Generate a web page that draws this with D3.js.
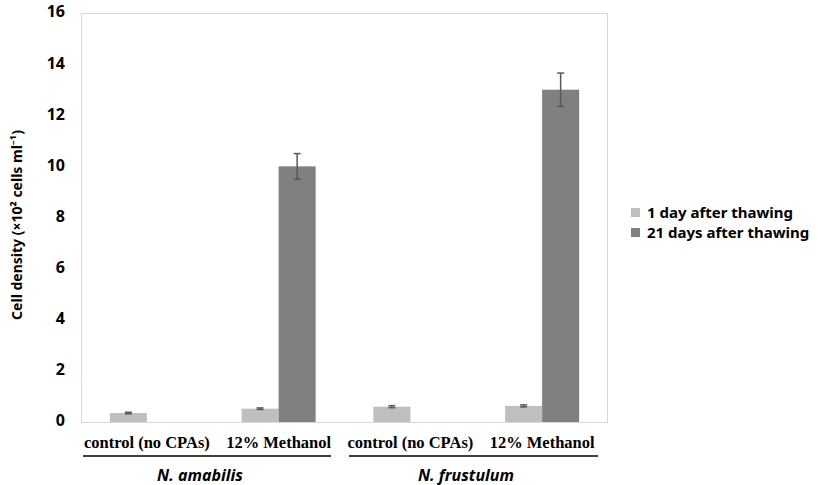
<!DOCTYPE html>
<html>
<head>
<meta charset="utf-8">
<script src="https://cdn.jsdelivr.net/npm/d3@7"></script>
<style>
  body { margin: 0; background: #fff; overflow: hidden; }
  svg { display: block; }
</style>
</head>
<body>
<script>
var categories = ["control (no CPAs)", "12% Methanol", "control (no CPAs)", "12% Methanol"];
var species = ["N. amabilis", "N. frustulum"];
var seriesNames = ["1 day after thawing", "21 days after thawing"];
var day1 = [0.35, 0.52, 0.60, 0.63];
var day1Err = [0.03, 0.03, 0.04, 0.04];
var day21 = [null, 10.0, null, 13.0];
var day21Err = [null, 0.5, null, 0.65];
var yTicks = [0, 2, 4, 6, 8, 10, 12, 14, 16];
var colors = ["#bfbfbf", "#808080"];

var svg = d3.select("body")
  .append("svg")
    .attr("width", 819)
    .attr("height", 485)

var plotL = 81, plotR = 608, plotT = 13, plotB = 422;

var x = d3.scaleBand().domain(d3.range(categories.length)).range([plotL, plotR]).padding(0)
var xs = d3.scaleBand().domain([0, 1]).range([0, x.bandwidth()]).paddingInner(0).paddingOuter(0.78)
var y = d3.scaleLinear().domain([0, 16]).range([plotB, plotT])

// plot border
svg.append("rect").attr("x", plotL + 0.5).attr("y", plotT + 0.5)
  .attr("width", plotR - plotL - 1).attr("height", plotB - plotT)
  .style("fill", "none").style("stroke", "#d9d9d9").style("stroke-width", 1)

// bars
var series = [day1, day21];
var errs = [day1Err, day21Err];
series.forEach(function(vals, s) {
  var data = vals.map(function(v, i) { return {i: i, v: v, e: errs[s][i]}; }).filter(function(d) { return d.v != null; });
  svg.append("g").selectAll("rect").data(data).enter().append("rect")
    .attr("x", function(d) { return x(d.i) + xs(s); })
    .attr("y", function(d) { return y(d.v); })
    .attr("width", xs.bandwidth())
    .attr("height", function(d) { return y(0) - y(d.v); })
    .style("fill", colors[s])
  // error bars
  var eg = svg.append("g").selectAll("g").data(data).enter().append("g")
  eg.append("line")
    .attr("x1", function(d) { return x(d.i) + xs(s) + xs.bandwidth() / 2; })
    .attr("x2", function(d) { return x(d.i) + xs(s) + xs.bandwidth() / 2; })
    .attr("y1", function(d) { return y(d.v - d.e); })
    .attr("y2", function(d) { return y(d.v + d.e); })
    .style("stroke", "#595959").style("stroke-width", 1.5)
  eg.selectAll(".cap").data(function(d) { return [d.v - d.e, d.v + d.e].map(function(t) { return {i: d.i, t: t}; }); })
    .enter().append("line")
    .attr("x1", function(d) { return x(d.i) + xs(s) + xs.bandwidth() / 2 - 3.5; })
    .attr("x2", function(d) { return x(d.i) + xs(s) + xs.bandwidth() / 2 + 3.5; })
    .attr("y1", function(d) { return y(d.t); })
    .attr("y2", function(d) { return y(d.t); })
    .style("stroke", "#595959").style("stroke-width", 1.5)
});

// y tick labels
svg.append("g").selectAll("text").data(yTicks).enter().append("text")
  .attr("x", 65).attr("y", function(d) { return y(d); })
  .attr("text-anchor", "end").attr("dominant-baseline", "middle")
  .style("font-family", "'Noto Sans', sans-serif").style("font-weight", "bold").style("font-size", "16px")
  .style("fill", "#000")
  .text(function(d) { return d; })

// y axis title
svg.append("text")
  .attr("transform", "translate(22,225) rotate(-90)")
  .attr("text-anchor", "middle")
  .style("font-family", "'Noto Sans', sans-serif").style("font-weight", "bold").style("font-size", "14px")
  .text("Cell density (×10² cells ml⁻¹)")

// category labels
svg.append("g").selectAll("text").data(categories).enter().append("text")
  .attr("x", function(d, i) { return x(i) + x.bandwidth() / 2; })
  .attr("y", 448)
  .attr("text-anchor", "middle")
  .style("font-family", "'Liberation Serif', serif").style("font-weight", "bold").style("font-size", "16.5px")
  .text(function(d) { return d; })

// species underlines and labels
var spanX = [[83, 331], [349, 598]];
var speciesX = [200, 466];
svg.append("g").selectAll("line").data(spanX).enter().append("line")
  .attr("x1", function(d) { return d[0]; }).attr("x2", function(d) { return d[1]; })
  .attr("y1", 456).attr("y2", 456)
  .style("stroke", "#404040").style("stroke-width", 2)
svg.append("g").selectAll("text").data(species).enter().append("text")
  .attr("x", function(d, i) { return speciesX[i]; })
  .attr("y", 481)
  .attr("text-anchor", "middle")
  .style("font-family", "'Noto Sans', sans-serif").style("font-weight", "bold").style("font-style", "italic").style("font-size", "16px")
  .text(function(d) { return d; })

// Legend
seriesNames.forEach(function(name, s) {
  svg.append("rect").attr("x", 631).attr("y", 208 + s * 20).attr("width", 9).attr("height", 9).style("fill", colors[s])
  svg.append("text").attr("x", 647).attr("y", 218 + s * 20).text(name)
    .style("font-family", "'Noto Sans', sans-serif").style("font-weight", "bold").style("font-size", "15px")
});
</script>
</body>
</html>
